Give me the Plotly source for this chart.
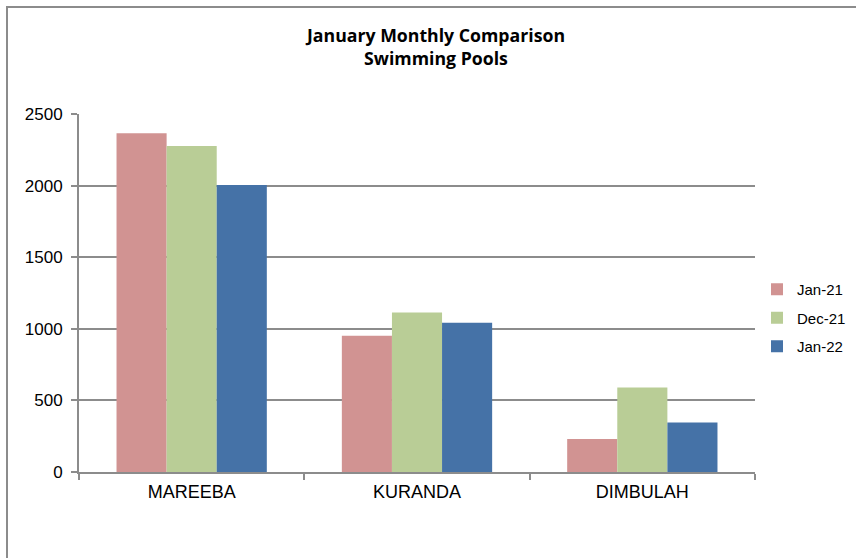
import plotly.graph_objects as go

categories = ["MAREEBA", "KURANDA", "DIMBULAH"]
series_names = ["Jan-21", "Dec-21", "Jan-22"]
jan21 = [2365, 951, 230]
dec21 = [2277, 1114, 590]
jan22 = [2005, 1042, 346]
colors = ["#D19392", "#B9CD96", "#4572A7"]
y_ticks = [0, 500, 1000, 1500, 2000, 2500]

fig = go.Figure()
for name, vals, col in zip(series_names, [jan21, dec21, jan22], colors):
    fig.add_trace(go.Bar(x=categories, y=vals, name=name, legendgroup=name,
                         marker=dict(color=col, line=dict(width=0))))

W, H = 856, 558
L, R, T, B = 79, 101, 114, 86
PW, PH = W - L - R, H - T - B

fig.update_layout(
    width=W, height=H,
    margin=dict(l=L, r=R, t=T, b=B, autoexpand=False),
    paper_bgcolor="white", plot_bgcolor="white",
    barmode="group", bargap=0.333, bargroupgap=0,
    title=dict(text="<b>January Monthly Comparison<br>Swimming Pools</b>",
               x=436 / W, xanchor="center", y=1 - 42 / H, yanchor="top",
               font=dict(family="Open Sans, Lato, Arial", size=17.7, color="black")),
    legend=dict(x=(757 - L) / PW, y=1 - (318 - T) / PH, xanchor="left", yanchor="middle",
                font=dict(family="Liberation Sans, Arial", size=15, color="black"),
                itemwidth=30, tracegroupgap=6, bgcolor="rgba(0,0,0,0)"),
    showlegend=True,
    font=dict(family="Liberation Sans, Arial", size=15, color="black"),
)
fig.update_xaxes(
    showline=True, linecolor="#8C8C8C", linewidth=2,
    ticks="outside", ticklen=6, tickcolor="#8C8C8C", tickwidth=2,
    tickson="boundaries", showgrid=False,
    tickfont=dict(family="Liberation Sans, Arial", size=18, color="black"),
    ticklabelstandoff=2,
)
fig.update_yaxes(
    range=[0, 2500], tickvals=y_ticks,
    showline=True, linecolor="#8C8C8C", linewidth=2,
    ticks="outside", ticklen=6, tickcolor="#8C8C8C", tickwidth=2,
    showgrid=True, gridcolor="#8C8C8C", gridwidth=2,
    zeroline=False,
    tickfont=dict(family="Liberation Sans, Arial", size=17, color="black"),
    ticklabelstandoff=5,
)
# outer chart border (top and left visible)
fig.add_shape(type="rect", xref="paper", yref="paper",
              x0=(7 - L) / PW, x1=(W + 20 - L) / PW,
              y0=-(B + 20) / PH, y1=1 + (T - 7) / PH,
              line=dict(color="#8C8C8C", width=2), layer="below")

fig.write_html("out.html", config={"displayModeBar": False},
               post_script="document.body.style.margin='0';document.body.style.overflow='hidden';")
